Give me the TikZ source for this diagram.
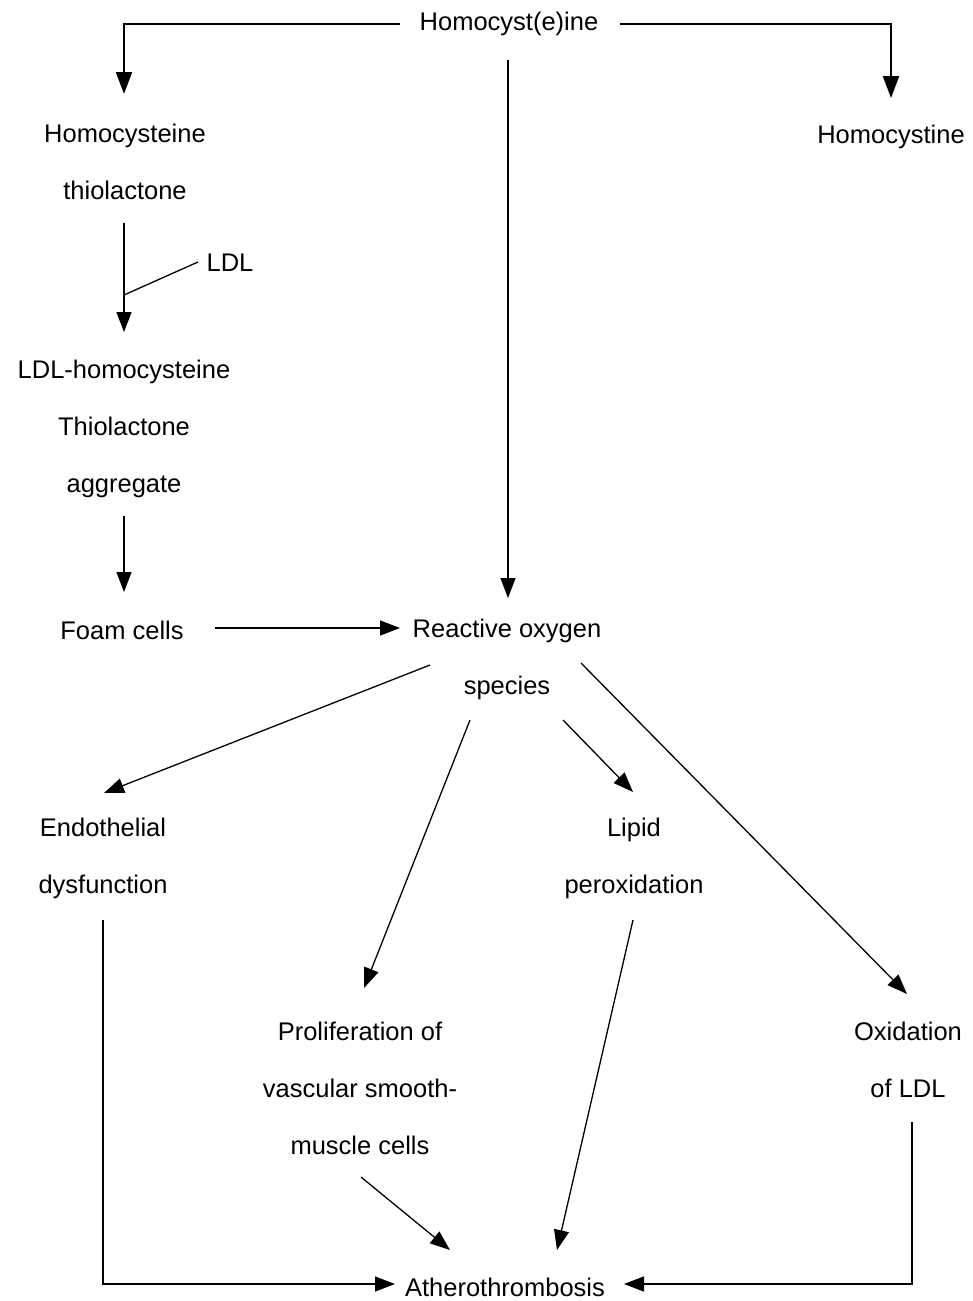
\documentclass[tikz,border=0pt]{standalone}
\usepackage{fontspec}
\setmainfont{Liberation Sans}
\usetikzlibrary{arrows.meta}
\begin{document}
\begin{tikzpicture}[x=1pt,y=-1pt,
  lbl/.style={align=center,inner sep=0pt,font=\fontsize{25.5}{57}\selectfont},
  conn/.style={line width=1.3pt,-{Triangle[length=20pt,width=15pt]}},
  plain/.style={line width=1.3pt},
  thick2/.style={line width=2.2pt}]
\useasboundingbox (0,0) rectangle (972,1301);
% nodes
\node[lbl] (hcy) at (509,24) {Homocyst(e)ine};
\node[lbl] (htl) at (125,161.5) {Homocysteine\\thiolactone};
\node[lbl] (hcs) at (891,137) {Homocystine};
\node[lbl] (ldl) at (230,263) {LDL};
\node[lbl] (agg) at (124,428.5) {LDL-homocysteine\\Thiolactone\\aggregate};
\node[lbl] (foam) at (122,630) {Foam cells};
\node[lbl] (ros) at (507,659) {Reactive oxygen\\species};
\node[lbl] (endo) at (103,858.5) {Endothelial\\dysfunction};
\node[lbl] (lip) at (634,858.5) {Lipid\\peroxidation};
\node[lbl] (prol) at (360,1088) {Proliferation of\\vascular smooth-\\muscle cells};
\node[lbl] (oxi) at (908,1059.5) {Oxidation\\of LDL};
\node[lbl] (ath) at (505,1287) {Atherothrombosis};
% connector end points
\coordinate (hcyL) at (400,24);
\coordinate (hcyR) at (620,24);
\coordinate (tL) at (124,94);
\coordinate (tR) at (891,98);
\coordinate (hcyB) at (508,60);
\coordinate (rosT) at (508,598);
\coordinate (htlB) at (124,223);
\coordinate (aggT) at (124,332);
\coordinate (ldlL) at (198,262);
\coordinate (ldlJ) at (124,295);
\coordinate (aggB) at (124,516);
\coordinate (foamT) at (124,592);
\coordinate (foamR) at (215,628);
\coordinate (rosL) at (400,628);
\coordinate (r1) at (430,665);
\coordinate (endoT) at (104,793);
\coordinate (r2) at (470,720);
\coordinate (prolT) at (364,988);
\coordinate (r3) at (563,720);
\coordinate (lipT) at (633,792);
\coordinate (r4) at (581,663);
\coordinate (oxiT) at (907,994);
\coordinate (endoB) at (103,920);
\coordinate (cornL) at (103,1284);
\coordinate (athL) at (395,1284);
\coordinate (prolB) at (361,1177);
\coordinate (athA) at (450,1250);
\coordinate (lipB) at (633,920);
\coordinate (athB) at (557,1250);
\coordinate (oxiB) at (912,1122);
\coordinate (cornR) at (912,1284);
\coordinate (athR) at (624,1284);
% connectors
\draw[thick2,-{Triangle[length=22pt,width=16pt]}] (hcyL) -| (tL);
\draw[thick2,-{Triangle[length=22pt,width=16pt]}] (hcyR) -| (tR);
\draw[plain,-{Triangle[length=20pt,width=15pt]}] (hcyB) -- (rosT);
\draw[conn] (htlB) -- (aggT);
\draw[plain] (ldlL) -- (ldlJ);
\draw[conn] (aggB) -- (foamT);
\draw[conn] (foamR) -- (rosL);
\draw[conn] (r1) -- (endoT);
\draw[conn] (r2) -- (prolT);
\draw[conn] (r3) -- (lipT);
\draw[conn] (r4) -- (oxiT);
\draw[conn] (endoB) -- (cornL) -- (athL);
\draw[conn] (prolB) -- (athA);
\draw[conn] (lipB) -- (athB);
\draw[conn] (oxiB) -- (cornR) -- (athR);
\end{tikzpicture}
\end{document}
